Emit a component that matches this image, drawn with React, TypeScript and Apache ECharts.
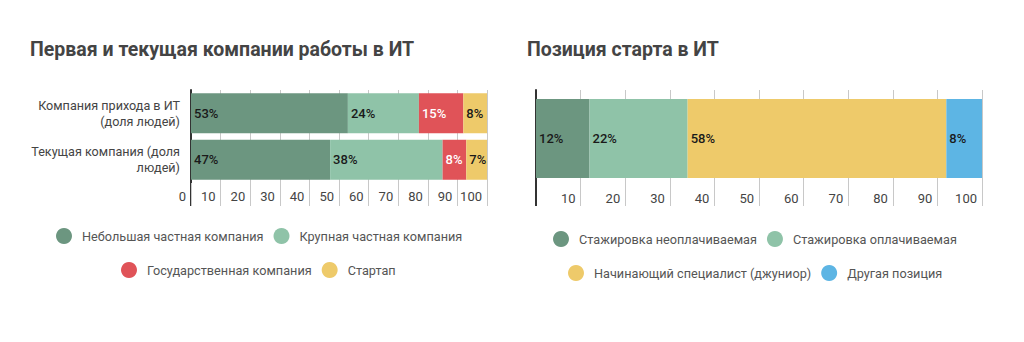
import React, { useEffect, useRef } from "react";
import * as echarts from "echarts";

const leftTitle = "Первая и текущая компании работы в ИТ";
const rightTitle = "Позиция старта в ИТ";

const leftCategories = ["Компания прихода в ИТ\n(доля людей)", "Текущая компания (доля\nлюдей)"];
const leftSeriesNames = ["Небольшая частная компания", "Крупная частная компания", "Государственная компания", "Стартап"];
const leftSmall = [53, 47];
const leftLarge = [24, 38];
const leftGov = [15, 8];
const leftStartup = [8, 7];

const rightCategories = ["Позиция"];
const rightSeriesNames = ["Стажировка неоплачиваемая", "Стажировка оплачиваемая", "Начинающий специалист (джуниор)", "Другая позиция"];
const rightUnpaid = [12];
const rightPaid = [22];
const rightJunior = [58];
const rightOther = [8];

const C_DARK = "#6c9680";
const C_LIGHT = "#8fc3a8";
const C_RED = "#e05358";
const C_YELLOW = "#eeca6a";
const C_BLUE = "#5db5e4";
const FONT = "Roboto";

export default function App() {
  const ref = useRef<HTMLDivElement>(null);
  useEffect(() => {
    if (!ref.current) return;
    const chart = echarts.init(ref.current, undefined, { renderer: "svg" });
    const mkLabel = (color: string) => ({
      show: true,
      position: "insideLeft",
      distance: 3,
      formatter: "{c}%",
      color,
      fontSize: 13,
      fontWeight: 500,
      fontFamily: FONT,
    });
    const bar = (name: string, data: number[], color: string, idx: number, labelColor = "#1a1a1a", width = 40) => ({
      type: "bar",
      name,
      data,
      stack: "s" + idx,
      xAxisIndex: idx,
      yAxisIndex: idx,
      barWidth: width,
      itemStyle: { color },
      label: mkLabel(labelColor),
      emphasis: { disabled: true },
    });
    const xAx = (idx: number, tickLen: number, margin: number, showMin: boolean) => ({
      type: "value",
      gridIndex: idx,
      min: 0,
      max: 100,
      interval: 10,
      axisLine: { show: false },
      axisTick: { show: true, length: tickLen, lineStyle: { color: "#c8c8c8" } },
      splitLine: { show: true, lineStyle: { color: "#c8c8c8" } },
      axisLabel: {
        align: "right",
        padding: [0, 5, 0, 0],
        margin,
        color: "#444",
        fontSize: 13,
        fontFamily: FONT,
        showMinLabel: showMin,
        showMaxLabel: true,
      },
    });
    const legendBase = {
      icon: "circle",
      itemWidth: 16,
      itemHeight: 16,
      itemGap: 10,
      padding: 0,
      selectedMode: false,
      textStyle: { color: "#555", fontSize: 12.7, fontFamily: FONT, padding: [0, 0, 0, 5] },
    };
    const titleStyle = { fontSize: 19.5, fontWeight: "bold", color: "#444", fontFamily: FONT };
    chart.setOption({
      animation: false,
      textStyle: { fontFamily: FONT },
      title: [
        { text: leftTitle, left: 30, top: 39, padding: 0, textStyle: titleStyle },
        { text: rightTitle, left: 527, top: 39, padding: 0, textStyle: titleStyle },
      ],
      legend: [
        { ...legendBase, data: leftSeriesNames.slice(0, 2), left: 56, top: 228 },
        { ...legendBase, data: leftSeriesNames.slice(2, 4), left: 121, top: 262 },
        { ...legendBase, data: rightSeriesNames.slice(0, 2), left: 553, top: 231 },
        { ...legendBase, data: rightSeriesNames.slice(2, 4), left: 568, top: 265 },
      ],
      grid: [
        { left: 191, right: 537, top: 90, height: 93 },
        { left: 536, right: 42, top: 90, height: 97 },
      ],
      xAxis: [xAx(0, 23, 7, true), xAx(1, 19, 5, false)],
      yAxis: [
        {
          type: "category",
          gridIndex: 0,
          inverse: true,
          data: leftCategories,
          axisLine: { show: true, lineStyle: { color: "#333", width: 2 } },
          axisTick: { show: false },
          axisLabel: { color: "#444", fontSize: 12.6, fontFamily: FONT, lineHeight: 16, margin: 11, align: "right" },
        },
        {
          type: "category",
          gridIndex: 1,
          data: rightCategories,
          axisLine: { show: true, lineStyle: { color: "#333", width: 2 } },
          axisTick: { show: false },
          axisLabel: { show: false },
        },
      ],
      graphic: [
        { type: "line", shape: { x1: 191, y1: 183, x2: 191, y2: 206 }, style: { stroke: "#333", lineWidth: 2 } },
        { type: "line", shape: { x1: 536, y1: 187, x2: 536, y2: 206 }, style: { stroke: "#333", lineWidth: 2 } },
      ],
      series: [
        bar(leftSeriesNames[0], leftSmall, C_DARK, 0),
        bar(leftSeriesNames[1], leftLarge, C_LIGHT, 0),
        bar(leftSeriesNames[2], leftGov, C_RED, 0, "#ffffff"),
        bar(leftSeriesNames[3], leftStartup, C_YELLOW, 0),
        bar(rightSeriesNames[0], rightUnpaid, C_DARK, 1, "#1a1a1a", 79),
        bar(rightSeriesNames[1], rightPaid, C_LIGHT, 1, "#1a1a1a", 79),
        bar(rightSeriesNames[2], rightJunior, C_YELLOW, 1, "#1a1a1a", 79),
        bar(rightSeriesNames[3], rightOther, C_BLUE, 1, "#1a1a1a", 79),
      ],
    });
    return () => chart.dispose();
  }, []);
  return <div ref={ref} style={{ position: "absolute", left: 0, top: 0, width: 1024, height: 342, background: "#fff" }} />;
}
